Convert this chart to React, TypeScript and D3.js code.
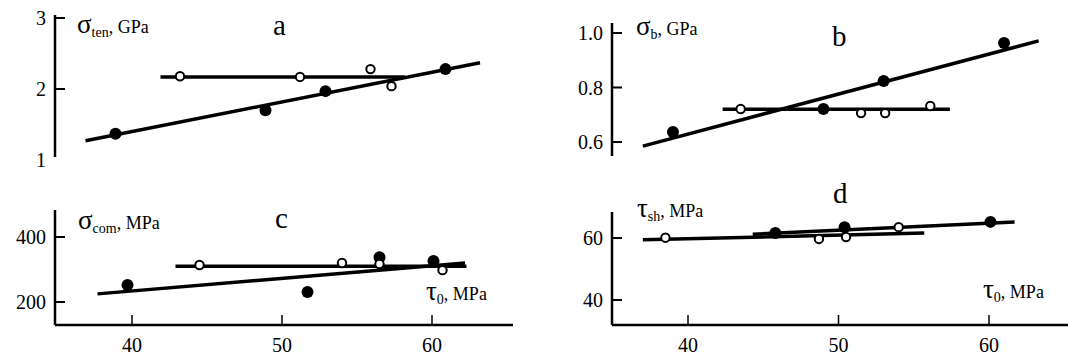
import React from 'react';
import * as d3 from 'd3';

// tau_0, MPa on x for every panel
const xTicks = [40, 50, 60];

// a: sigma_ten, GPa
const aFilledX = [38.9, 48.9, 52.9, 60.9];
const aFilledY = [1.37, 1.7, 1.97, 2.28];
const aFilledFit = [[36.9, 1.27], [63.2, 2.37]];
const aOpenX = [43.2, 51.2, 55.9, 57.3];
const aOpenY = [2.18, 2.17, 2.28, 2.04];
const aOpenFit = [[41.9, 2.17], [58.2, 2.17]];
const aTicks = [1, 2, 3];

// b: sigma_b, GPa
const bFilledX = [39.0, 49.0, 53.0, 61.0];
const bFilledY = [0.637, 0.721, 0.824, 0.963];
const bFilledFit = [[37.0, 0.585], [63.3, 0.971]];
const bOpenX = [43.5, 51.5, 53.1, 56.1];
const bOpenY = [0.721, 0.706, 0.706, 0.732];
const bOpenFit = [[42.3, 0.72], [57.4, 0.72]];
const bTicks = [0.6, 0.8, 1.0];

// c: sigma_com, MPa
const cFilledX = [39.7, 51.7, 56.5, 60.1];
const cFilledY = [252, 231, 338, 326];
const cFilledFit = [[37.7, 225], [62.2, 320]];
const cOpenX = [44.5, 54.0, 56.5, 60.7];
const cOpenY = [314, 320, 317, 298];
const cOpenFit = [[42.9, 310], [62.3, 310]];
const cTicks = [200, 400];

// d: tau_sh, MPa
const dFilledX = [45.8, 50.4, 60.1];
const dFilledY = [61.6, 63.5, 65.2];
const dFilledFit = [[44.3, 61.2], [61.7, 65.2]];
const dOpenX = [38.5, 48.7, 50.5, 54.0];
const dOpenY = [60.1, 59.7, 60.3, 63.5];
const dOpenFit = [[37.0, 59.4], [55.7, 61.6]];
const dTicks = [40, 60];

const FONT = '"Liberation Serif", "Times New Roman", serif';

const xLeft = d3.scaleLinear().domain([40, 60]).range([132, 432]);
const xRight = d3.scaleLinear().domain([40, 60]).range([688, 989]);

type PanelProps = {
  x: d3.ScaleLinear<number, number>;
  y: d3.ScaleLinear<number, number>;
  yTicks: number[];
  fmt: (v: number) => string;
  axisX: number;
  axisTop: number;
  axisBottom: number;
  xAxis?: { y: number; x2: number };
  filledX: number[];
  filledY: number[];
  filledFit: number[][];
  openX: number[];
  openY: number[];
  openFit: number[][];
};

const Panel = (p: PanelProps) => {
  const line = d3.line<number[]>().x(d => p.x(d[0])).y(d => p.y(d[1]));
  return (
    <g>
      <line x1={p.axisX} x2={p.axisX} y1={p.axisTop} y2={p.axisBottom} stroke="#000" strokeWidth={2.5} />
      {p.yTicks.map(t => (
        <g key={t}>
          {p.y(t) < p.axisBottom - 4 && (
            <line x1={p.axisX} x2={p.axisX + 10} y1={p.y(t)} y2={p.y(t)} stroke="#000" strokeWidth={2} />
          )}
          <text x={p.axisX - 9} y={p.y(t)} dy="0.35em" textAnchor="end" fontSize={20} fontFamily={FONT}>
            {p.fmt(t)}
          </text>
        </g>
      ))}
      {p.xAxis && (
        <g>
          <line x1={p.axisX} x2={p.xAxis.x2} y1={p.xAxis.y} y2={p.xAxis.y} stroke="#000" strokeWidth={2.5} />
          {xTicks.map(t => (
            <g key={t}>
              <line x1={p.x(t)} x2={p.x(t)} y1={p.xAxis!.y} y2={p.xAxis!.y - 10} stroke="#000" strokeWidth={1.5} />
              <text x={p.x(t)} y={352} textAnchor="middle" fontSize={20} fontFamily={FONT}>{t}</text>
            </g>
          ))}
        </g>
      )}
      <path d={line(p.filledFit) || ''} stroke="#000" strokeWidth={3.5} fill="none" />
      <path d={line(p.openFit) || ''} stroke="#000" strokeWidth={3.5} fill="none" />
      {p.filledX.map((v, i) => (
        <circle key={'f' + i} cx={p.x(v)} cy={p.y(p.filledY[i])} r={6} fill="#000" />
      ))}
      {p.openX.map((v, i) => (
        <circle key={'o' + i} cx={p.x(v)} cy={p.y(p.openY[i])} r={4.2} fill="#fff" stroke="#000" strokeWidth={2} />
      ))}
    </g>
  );
};

const Title = ({ x, y, sym, sub, unit }: { x: number; y: number; sym: string; sub: string; unit: string }) => (
  <text x={x} y={y} fontFamily={FONT}>
    <tspan fontSize={27}>{sym}</tspan>
    <tspan fontSize={14} dy={4}>{sub}</tspan>
    <tspan fontSize={18} dy={-4}>{', ' + unit}</tspan>
  </text>
);

const Letter = ({ x, y, s }: { x: number; y: number; s: string }) => (
  <text x={x} y={y} fontSize={29} fontFamily={FONT}>{s}</text>
);

export default function App() {
  return (
    <svg width={1068} height={357} style={{ display: 'block', position: 'absolute', left: 0, top: 0, background: '#fff' }}>
      <Panel
        x={xLeft}
        y={d3.scaleLinear().domain([1, 3]).range([160, 18])}
        yTicks={aTicks}
        fmt={d3.format('d')}
        axisX={55}
        axisTop={15}
        axisBottom={157}
        filledX={aFilledX}
        filledY={aFilledY}
        filledFit={aFilledFit}
        openX={aOpenX}
        openY={aOpenY}
        openFit={aOpenFit}
      />
      <Panel
        x={xRight}
        y={d3.scaleLinear().domain([0.6, 1.0]).range([142, 33])}
        yTicks={bTicks}
        fmt={d3.format('.1f')}
        axisX={612}
        axisTop={23}
        axisBottom={156}
        filledX={bFilledX}
        filledY={bFilledY}
        filledFit={bFilledFit}
        openX={bOpenX}
        openY={bOpenY}
        openFit={bOpenFit}
      />
      <Panel
        x={xLeft}
        y={d3.scaleLinear().domain([200, 400]).range([302, 237])}
        yTicks={cTicks}
        fmt={d3.format('d')}
        axisX={55}
        axisTop={210}
        axisBottom={325}
        xAxis={{ y: 325, x2: 513 }}
        filledX={cFilledX}
        filledY={cFilledY}
        filledFit={cFilledFit}
        openX={cOpenX}
        openY={cOpenY}
        openFit={cOpenFit}
      />
      <Panel
        x={xRight}
        y={d3.scaleLinear().domain([40, 60]).range([300, 238])}
        yTicks={dTicks}
        fmt={d3.format('d')}
        axisX={612}
        axisTop={212}
        axisBottom={325}
        xAxis={{ y: 325, x2: 1068 }}
        filledX={dFilledX}
        filledY={dFilledY}
        filledFit={dFilledFit}
        openX={dOpenX}
        openY={dOpenY}
        openFit={dOpenFit}
      />
      <Title x={77} y={33} sym="σ" sub="ten" unit="GPa" />
      <Title x={636} y={35} sym="σ" sub="b" unit="GPa" />
      <Title x={78} y={229} sym="σ" sub="com" unit="MPa" />
      <Title x={637} y={217} sym="τ" sub="sh" unit="MPa" />
      <Title x={426} y={300} sym="τ" sub="0" unit="MPa" />
      <Title x={983} y={298} sym="τ" sub="0" unit="MPa" />
      <Letter x={273} y={35} s="a" />
      <Letter x={832} y={46} s="b" />
      <Letter x={275} y={228} s="c" />
      <Letter x={833} y={203} s="d" />
    </svg>
  );
}
